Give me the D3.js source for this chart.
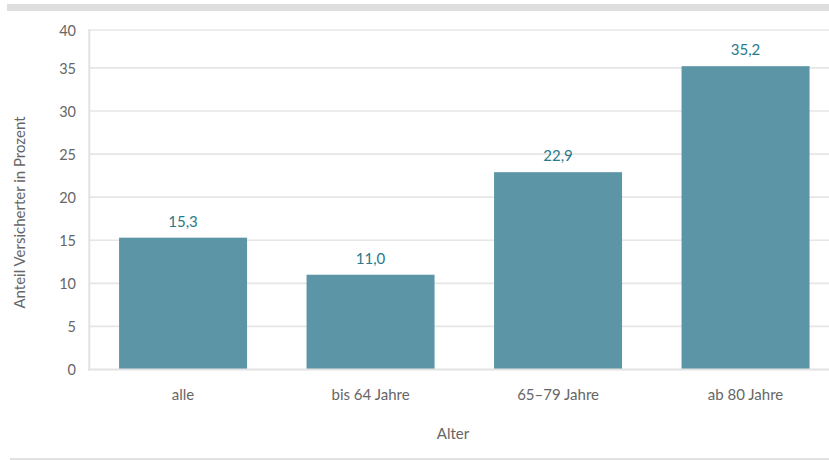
<!DOCTYPE html>
<html><head><meta charset="utf-8">
<script src="https://cdn.jsdelivr.net/npm/d3@7"></script>
<style>body{margin:0;background:#fff;} svg{display:block;font-family:Lato,"Open Sans",sans-serif;}</style>
</head><body>
<svg id="c" width="829" height="460"></svg>
<script>
const categories = ["alle", "bis 64 Jahre", "65\u201379 Jahre", "ab 80 Jahre"];
const values = [15.3, 11.0, 22.9, 35.2];
const valueLabels = ["15,3", "11,0", "22,9", "35,2"];
const yTicks = [0, 5, 10, 15, 20, 25, 30, 35, 40];
const yTitle = "Anteil Versicherter in Prozent";
const xTitle = "Alter";

const svg = d3.select("#c");
const plotLeft = 89.3, plotRight = 839.3, plotTop = 30, plotBottom = 369.5;
const W = 829;

const x = d3.scaleBand().domain(categories).range([plotLeft, plotRight])
  .paddingInner(0.3173).paddingOuter(0.1587);
const y = d3.scaleLinear().domain([0, 40]).range([plotBottom, plotBottom - 40 * 8.617]);
const ty = v => Math.max(y(v), plotTop);

svg.append("rect").attr("x", 7).attr("y", 4).attr("width", W - 7).attr("height", 7).attr("fill", "#dedede");
svg.append("line").attr("x1", 10).attr("x2", W).attr("y1", 459).attr("y2", 459)
  .attr("stroke", "#e2e2e2").attr("stroke-width", 2);

svg.append("g").selectAll("line").data(yTicks.filter(d => d > 0)).join("line")
  .attr("x1", plotLeft).attr("x2", W)
  .attr("y1", d => ty(d)).attr("y2", d => ty(d))
  .attr("stroke", "#e6e6e6").attr("stroke-width", 1.6);

svg.append("g").selectAll("text").data(yTicks).join("text")
  .attr("x", 76).attr("y", d => ty(d) + 2)
  .attr("text-anchor", "end").attr("dominant-baseline", "middle")
  .attr("font-size", 14.5).attr("fill", "#666").text(d => d);

svg.append("g").selectAll("rect").data(values).join("rect")
  .attr("x", (d, i) => x(categories[i])).attr("width", x.bandwidth())
  .attr("y", d => y(d)).attr("height", d => y(0) - y(d))
  .attr("fill", "#5c95a6");

svg.append("line").attr("x1", plotLeft).attr("x2", plotLeft).attr("y1", plotTop - 1).attr("y2", plotBottom + 1)
  .attr("stroke", "#e2e2e2").attr("stroke-width", 2);
svg.append("line").attr("x1", plotLeft - 1).attr("x2", W).attr("y1", plotBottom).attr("y2", plotBottom)
  .attr("stroke", "#e2e2e2").attr("stroke-width", 2);

svg.append("g").selectAll("text").data(values).join("text")
  .attr("x", (d, i) => x(categories[i]) + x.bandwidth() / 2)
  .attr("y", d => y(d) - 11)
  .attr("text-anchor", "middle").attr("font-size", 15).attr("fill", "#287a8c")
  .text((d, i) => valueLabels[i]);

svg.append("g").selectAll("text").data(categories).join("text")
  .attr("x", d => x(d) + x.bandwidth() / 2).attr("y", 400)
  .attr("text-anchor", "middle").attr("font-size", 15).attr("fill", "#666").text(d => d);

svg.append("text").attr("x", 453).attr("y", 439).attr("text-anchor", "middle")
  .attr("font-size", 15).attr("fill", "#666").text(xTitle);

svg.append("text").attr("transform", "translate(25,212.5) rotate(-90)")
  .attr("text-anchor", "middle").attr("font-size", 15).attr("fill", "#666").text(yTitle);
</script>
</body></html>
